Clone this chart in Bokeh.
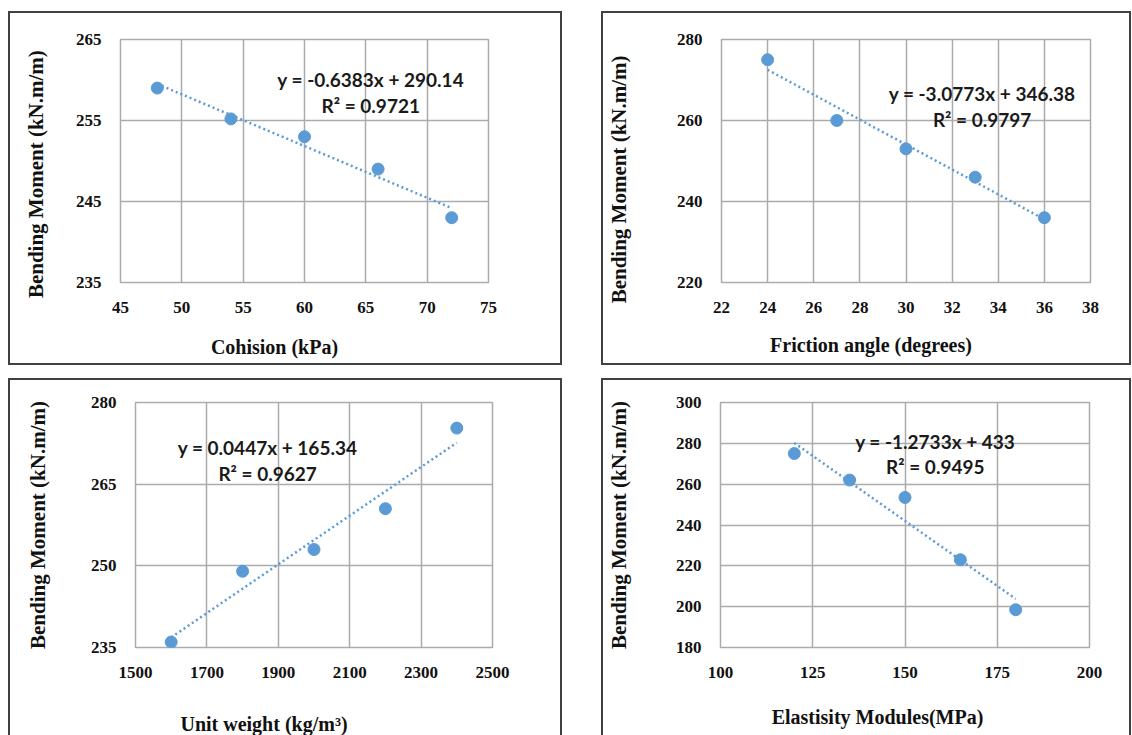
from bokeh.plotting import figure
from bokeh.layouts import column, row
from bokeh.models import FixedTicker, Range1d, Label, Spacer
from bokeh.embed import file_html
from bokeh.resources import INLINE

# ---------------- data ----------------
cohesion = [48, 54, 60, 66, 72]
bm_cohesion = [259, 255.2, 253, 249, 243]

friction = [24, 27, 30, 33, 36]
bm_friction = [275, 260, 253, 246, 236]

unit_weight = [1600, 1800, 2000, 2200, 2400]
bm_unit_weight = [236, 249, 253, 260.5, 275.3]

modulus = [120, 135, 150, 165, 180]
bm_modulus = [275, 262, 253.5, 223, 198.5]

# linear trend lines as printed on the chart
trend_slope = [-0.6383, -3.0773, 0.0447, -1.2733]
trend_intercept = [290.14, 346.38, 165.34, 433]
eq_labels = ["y = -0.6383x + 290.14", "y = -3.0773x + 346.38",
             "y = 0.0447x + 165.34", "y = -1.2733x + 433"]
r2_labels = ["R² = 0.9721", "R² = 0.9797", "R² = 0.9627", "R² = 0.9495"]

x_titles = ["Cohision (kPa)", "Friction angle (degrees)",
            "Unit weight (kg/m³)", "Elastisity Modules(MPa)"]
y_title = "Bending Moment (kN.m/m)"

x_ticks_1 = [45, 50, 55, 60, 65, 70, 75]
y_ticks_1 = [235, 245, 255, 265]
x_ticks_2 = [22, 24, 26, 28, 30, 32, 34, 36, 38]
y_ticks_2 = [220, 240, 260, 280]
x_ticks_3 = [1500, 1700, 1900, 2100, 2300, 2500]
y_ticks_3 = [235, 250, 265, 280]
x_ticks_4 = [100, 125, 150, 175, 200]
y_ticks_4 = [180, 200, 220, 240, 260, 280, 300]

# ---------------- styling ----------------
BLUE = "#5B9BD5"
GRID = "#ABABAB"
BORDER = "#404040"
TXT = "#111111"
SERIF = "Liberation Serif"
EQFONT = "Lato"
NBSP = "\u00a0"

# mb = (top, right, bottom, left) borders of the canvas (inside the 2px box)
# xpad / ypad: trailing no-break spaces that shift the centred axis titles
panels = [
    dict(x=cohesion, y=bm_cohesion, xt=x_ticks_1, yt=y_ticks_1,
         w=554, h=354, mb=(26, 76, 80, 110), bottom_border=True,
         eq_pos=(65.4, 260.1, 256.9), xstand=20, ystand=25, xpad=12, ypad=5),
    dict(x=friction, y=bm_friction, xt=x_ticks_2, yt=y_ticks_2,
         w=530, h=354, mb=(24, 43, 85, 116), bottom_border=True,
         eq_pos=(33.3, 266.6, 260.3), xstand=18, ystand=43, xpad=14, ypad=7),
    dict(x=unit_weight, y=bm_unit_weight, xt=x_ticks_3, yt=y_ticks_3,
         w=554, h=357, mb=(22, 72, 89, 125), bottom_border=False,
         eq_pos=(1870, 271.7, 266.9), xstand=32, ystand=38, xpad=20, ypad=0),
    dict(x=modulus, y=bm_modulus, xt=x_ticks_4, yt=y_ticks_4,
         w=530, h=357, mb=(22, 44, 81, 115), bottom_border=False,
         eq_pos=(158.2, 281.1, 268.7), xstand=25, ystand=42, xpad=11, ypad=0),
]


def make_panel(i, cfg):
    xt, yt = cfg["xt"], cfg["yt"]
    top, right, bottom, left = cfg["mb"]
    p = figure(width=cfg["w"], height=cfg["h"], output_backend="svg",
               toolbar_location=None,
               x_range=Range1d(xt[0], xt[-1]), y_range=Range1d(yt[0], yt[-1]),
               min_border_top=top, min_border_right=right,
               min_border_bottom=bottom, min_border_left=left)
    styles = {"border": f"2px solid {BORDER}"}
    if not cfg["bottom_border"]:
        styles["border-bottom"] = "none"
    p.styles = styles
    p.background_fill_color = "white"
    p.border_fill_color = "white"
    p.outline_line_color = GRID
    p.outline_line_width = 1.5

    for ax, ticks in ((p.xaxis[0], xt), (p.yaxis[0], yt)):
        ax.ticker = FixedTicker(ticks=ticks)
        ax.axis_line_color = None
        ax.major_tick_line_color = None
        ax.minor_tick_line_color = None
        ax.major_label_text_font = SERIF
        ax.major_label_text_font_style = "bold"
        ax.major_label_text_font_size = "17px"
        ax.major_label_text_color = TXT
        ax.major_label_standoff = 13
        ax.axis_label_text_font = SERIF
        ax.axis_label_text_font_style = "bold"
        ax.axis_label_text_color = TXT
    p.yaxis[0].major_label_orientation = "horizontal"

    p.xaxis[0].axis_label = x_titles[i] + NBSP * cfg["xpad"]
    p.xaxis[0].axis_label_text_font_size = "20px"
    p.xaxis[0].axis_label_standoff = cfg["xstand"]
    p.yaxis[0].axis_label = y_title + NBSP * cfg["ypad"]
    p.yaxis[0].axis_label_text_font_size = "21px"
    p.yaxis[0].axis_label_standoff = cfg["ystand"]

    p.xgrid.ticker = FixedTicker(ticks=xt)
    p.ygrid.ticker = FixedTicker(ticks=yt)
    for g in (p.xgrid[0], p.ygrid[0]):
        g.grid_line_color = GRID
        g.grid_line_width = 1.5

    # trend line over the data's x extent
    xs = [min(cfg["x"]), max(cfg["x"])]
    ys = [trend_slope[i] * v + trend_intercept[i] for v in xs]
    p.line(xs, ys, line_color=BLUE, line_width=2.5, line_dash="2 3")

    p.scatter(cfg["x"], cfg["y"], size=12, fill_color=BLUE, line_color=BLUE)

    ex, ey1, ey2 = cfg["eq_pos"]
    for txt, yy in ((eq_labels[i], ey1), (r2_labels[i], ey2)):
        p.add_layout(Label(x=ex, y=yy, text=txt, text_align="center",
                           text_baseline="middle", text_font=EQFONT,
                           text_font_style="bold", text_font_size="19px",
                           text_color="#1a1a1a"))
    return p


figs = [make_panel(i, c) for i, c in enumerate(panels)]

layout = column(
    Spacer(height=11),
    row(Spacer(width=8), figs[0], Spacer(width=39), figs[1]),
    Spacer(height=13),
    row(Spacer(width=8), figs[2], Spacer(width=39), figs[3]),
)

open("out.html", "w").write(file_html(layout, INLINE))
